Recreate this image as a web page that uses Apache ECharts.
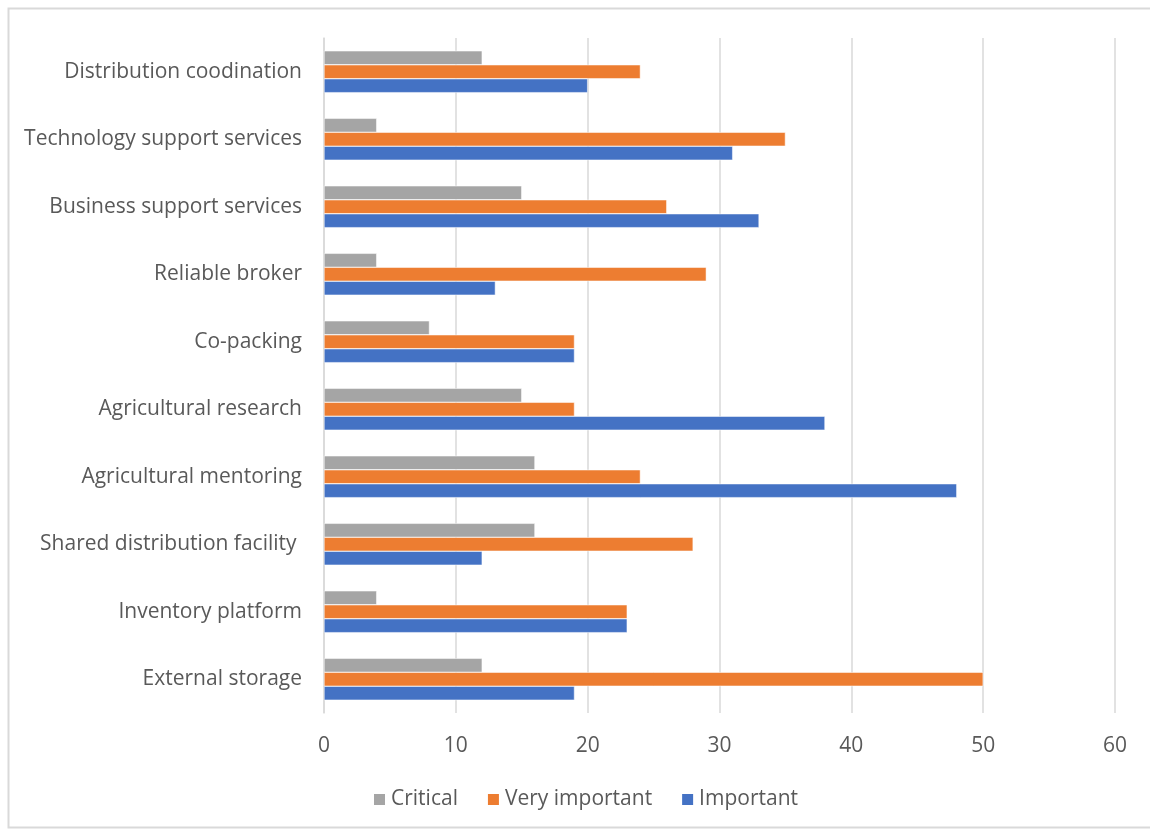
<!DOCTYPE html>
<html>
<head>
<meta charset="utf-8">
<script src="https://cdn.jsdelivr.net/npm/echarts@6/dist/echarts.min.js"></script>
<style>
html,body{margin:0;padding:0;background:#fff;}
#chart{width:1150px;height:832px;}
</style>
</head>
<body>
<div id="chart"></div>
<script>
var categories = ["External storage","Inventory platform","Shared distribution facility ","Agricultural mentoring","Agricultural research","Co-packing","Reliable broker","Business support services","Technology support services","Distribution coodination"];
var critical = [12,4,16,16,15,8,4,15,4,12];
var veryImportant = [50,23,28,24,19,19,29,26,35,24];
var important = [19,23,12,48,38,19,13,33,31,20];
var xTicks = {min:0,max:60,interval:10};

var FONT = '"Open Sans", sans-serif';
var TXT = '#595959';
var chart = echarts.init(document.getElementById('chart'), null, {renderer:'canvas'});
function mk(name, data, color){
  return {name:name, type:'bar', data:data, barGap:'0%', barCategoryGap:'38%',
    itemStyle:{color:color, borderColor:'#ffffff', borderWidth:0.5}, animation:false};
}
chart.setOption({
  animation:false,
  graphic:[{type:'rect', shape:{x:8.5,y:8.5,width:1160,height:819}, style:{fill:'none', stroke:'#d9d9d9', lineWidth:2}, silent:true}],
  grid:{left:324, right:35, top:38, bottom:119, containLabel:false},
  legend:{
    data:['Critical','Very important','Important'],
    left:367, bottom:17, itemWidth:13, itemHeight:13, itemGap:28,
    icon:'rect',
    textStyle:{color:TXT, fontSize:21, fontFamily:FONT}
  },
  xAxis:{type:'value', min:xTicks.min, max:xTicks.max, interval:xTicks.interval,
    axisLine:{show:false}, axisTick:{show:false},
    splitLine:{lineStyle:{color:'#d9d9d9', width:1.5}},
    axisLabel:{color:TXT, fontSize:21, fontFamily:FONT, margin:23}
  },
  yAxis:{type:'category', data:categories,
    axisLine:{show:true, lineStyle:{color:'#d9d9d9', width:1.5}}, axisTick:{show:false},
    axisLabel:{color:TXT, fontSize:21, fontFamily:FONT, margin:22}
  },
  series:[
    mk('Critical', critical, '#a5a5a5'),
    mk('Very important', veryImportant, '#ed7d31'),
    mk('Important', important, '#4472c4')
  ]
});
</script>
</body>
</html>
